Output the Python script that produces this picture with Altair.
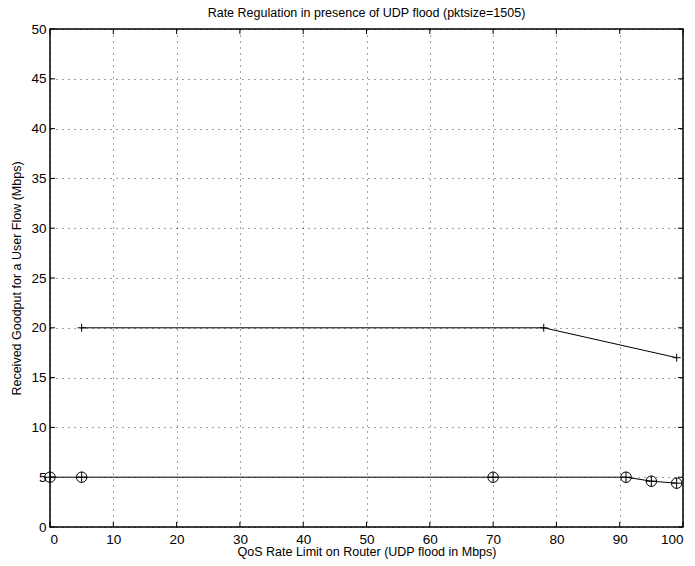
import altair as alt
import pandas as pd

# Series with "+" markers
plus_x = [5, 78, 99]
plus_y = [20, 20, 17]

# Series with circled-plus markers
circ_x = [0, 5, 70, 91, 95, 99]
circ_y = [5, 5, 5, 5, 4.6, 4.4]

x_ticks = [0, 10, 20, 30, 40, 50, 60, 70, 80, 90, 100]
y_ticks = [0, 5, 10, 15, 20, 25, 30, 35, 40, 45, 50]

plus_df = pd.DataFrame({"x": plus_x, "y": plus_y})
circ_df = pd.DataFrame({"x": circ_x, "y": circ_y})
xt_df = pd.DataFrame({"v": x_ticks})
yt_df = pd.DataFrame({"v": y_ticks})

FONT = "Liberation Sans"
xscale = alt.Scale(domain=[0, 100], nice=False, zero=False)
yscale = alt.Scale(domain=[0, 50], nice=False, zero=False)

xaxis = alt.Axis(values=x_ticks, title="QoS Rate Limit on Router (UDP flood in Mbps)",
                 grid=True, gridDash=[1, 5], gridColor="#000000", gridOpacity=0.75,
                 ticks=False, labelPadding=5, labelFontSize=13.5, labelFont=FONT,
                 labelColor="#000", titleFont=FONT, titleFontSize=12.5, titleFontWeight="normal",
                 titleColor="#000", titlePadding=0, domain=False)
yaxis = alt.Axis(values=y_ticks, title="Received Goodput for a User Flow (Mbps)",
                 grid=True, gridDash=[1, 5], gridColor="#000000", gridOpacity=0.75,
                 ticks=False, labelPadding=4, labelFontSize=13.5, labelFont=FONT,
                 labelColor="#000", titleFont=FONT, titleFontSize=12.5, titleFontWeight="normal",
                 titleColor="#000", titlePadding=7, domain=False)

base_line = alt.Chart(plus_df).mark_line(color="black", strokeWidth=1).encode(
    x=alt.X("x:Q", scale=xscale, axis=xaxis),
    y=alt.Y("y:Q", scale=yscale, axis=yaxis),
)
plus_pts = alt.Chart(plus_df).mark_point(
    shape="M-1,0H1M0,-1V1", size=64, color="black", strokeWidth=1, filled=False, opacity=1
).encode(x=alt.X("x:Q", scale=xscale), y=alt.Y("y:Q", scale=yscale))

circ_line = alt.Chart(circ_df).mark_line(color="black", strokeWidth=1).encode(
    x=alt.X("x:Q", scale=xscale), y=alt.Y("y:Q", scale=yscale)
)
circ_pts = alt.Chart(circ_df).mark_point(
    shape="M-1,0A1,1,0,1,1,1,0A1,1,0,1,1,-1,0ZM-1,0H1M0,-1V1",
    size=110, color="black", strokeWidth=1, filled=False, opacity=1
).encode(x=alt.X("x:Q", scale=xscale), y=alt.Y("y:Q", scale=yscale))

# Inward tick marks on all four sides
TL = 5
xt_bottom = alt.Chart(xt_df).mark_rule(color="black", strokeWidth=1).encode(
    x=alt.X("v:Q", scale=xscale), y=alt.value(498), y2=alt.value(498 - TL))
xt_top = alt.Chart(xt_df).mark_rule(color="black", strokeWidth=1).encode(
    x=alt.X("v:Q", scale=xscale), y=alt.value(0), y2=alt.value(TL))
yt_left = alt.Chart(yt_df).mark_rule(color="black", strokeWidth=1).encode(
    y=alt.Y("v:Q", scale=yscale), x=alt.value(0), x2=alt.value(TL))
yt_right = alt.Chart(yt_df).mark_rule(color="black", strokeWidth=1).encode(
    y=alt.Y("v:Q", scale=yscale), x=alt.value(633), x2=alt.value(633 - TL))

chart = alt.layer(
    base_line, circ_line, xt_bottom, xt_top, yt_left, yt_right, plus_pts, circ_pts
).properties(
    width=633, height=498,
    title=alt.TitleParams("Rate Regulation in presence of UDP flood (pktsize=1505)",
                          font=FONT, fontSize=12.5, fontWeight="normal", color="#000", offset=3),
    autosize=alt.AutoSizeParams(type="none"),
    padding={"left": 50, "top": 29, "right": 12, "bottom": 39},
    background="white",
).configure_view(stroke="black", strokeWidth=1.5)

chart.save("out.html", embed_options={"renderer": "svg", "actions": False})
